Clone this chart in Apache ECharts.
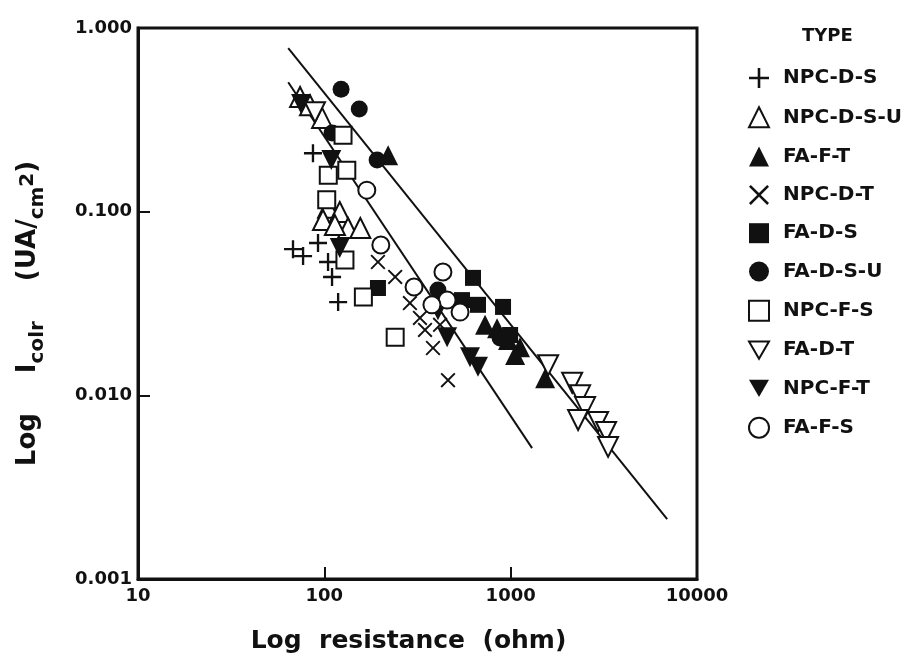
<!DOCTYPE html>
<html><head><meta charset="utf-8">
<script src="https://cdn.jsdelivr.net/npm/echarts@6/dist/echarts.min.js"></script>
<style>html,body{margin:0;padding:0;background:#fff}#c{width:916px;height:664px}</style>
</head><body><div id="c"></div>
<script>
// ---- data (resistance in ohm, current in uA/cm2) ----
const xTicks = [10, 100, 1000, 10000];
const yTicks = [0.001, 0.01, 0.1, 1];
const typeNames = ['NPC-D-S','NPC-D-S-U','FA-F-T','NPC-D-T','FA-D-S','FA-D-S-U','NPC-F-S','FA-D-T','NPC-F-T','FA-F-S'];
const npcDS  = [[67.9,0.0625],[76.9,0.0573],[92.5,0.0675],[104.7,0.0532],[110,0.0441],[118.6,0.0322],[86.9,0.208]];
const npcDSU = [[74.1,0.421],[83.8,0.380],[97.3,0.324],[104.7,0.105],[98.4,0.090],[121,0.0996],[134,0.0815],[156,0.0815],[114,0.0845]];
const faFT   = [[220,0.203],[729,0.0242],[845,0.0232],[968,0.0200],[1122,0.0183],[1057,0.0166],[1531,0.0124]];
const npcDT  = [[194,0.0532],[240,0.0441],[288,0.0318],[326,0.0264],[347,0.0227],[383,0.0181],[461,0.0121],[418,0.0242]];
const faDS   = [[194,0.0384],[628,0.0436],[548,0.0330],[668,0.0311],[910,0.0303],[993,0.0213]];
const faDSU  = [[123,0.464],[154,0.362],[110,0.268],[192,0.191],[407,0.0374],[877,0.0205]];
const npcFS  = [[126,0.261],[105,0.158],[132,0.168],[103,0.116],[129,0.0546],[162,0.0343],[240,0.0207]];
const faDT   = [[1589,0.0146],[2138,0.0117],[2358,0.0100],[2508,0.00863],[2301,0.00734],[2946,0.00716],[3251,0.00631],[3333,0.00524],[89.1,0.348]];
const npcFT  = [[75.0,0.386],[109,0.191],[121,0.0634],[407,0.0291],[456,0.0207],[605,0.0161],[668,0.0143]];
const faFS   = [[169,0.131],[201,0.0658],[303,0.0389],[433,0.0469],[456,0.0330],[535,0.0284],[378,0.0311]];
const fitUpper = [[64,0.778],[6918,0.00212]];
const fitLower = [[64,0.507],[1303,0.00516]];
const seriesData = [npcDS, npcDSU, faFT, npcDT, faDS, faDSU, npcFS, faDT, npcFT, faFS];

// ---- styles ----
const INK = '#111';
const FONT = 'DejaVu Sans';
const plusPath = 'path://M4.35,0H5.65V4.35H10V5.65H5.65V10H4.35V5.65H0V4.35H4.35Z';
const crossPath = 'path://M0,0.9L0.9,0L5,4.1L9.1,0L10,0.9L5.9,5L10,9.1L9.1,10L5,5.9L0.9,10L0,9.1L4.1,5Z';
const downTri = 'path://M0,0L10,0L5,8.66Z';
const open = {color:'#fff', borderColor:INK, borderWidth:2, opacity:1};
const solid = {color:INK, borderWidth:0, opacity:1};
const styles = [
  {symbol: plusPath, size: 18, item: solid},
  {symbol: 'triangle', size: 20, item: open},
  {symbol: 'triangle', size: 20, item: solid},
  {symbol: crossPath, size: 15, item: solid},
  {symbol: 'rect', size: 16, item: solid},
  {symbol: 'circle', size: 17, item: solid},
  {symbol: 'rect', size: 17, item: open},
  {symbol: downTri, size: 20, item: open},
  {symbol: downTri, size: 20, item: solid},
  {symbol: 'circle', size: 17, item: open}
];

const series = typeNames.map((n, i) => ({
  name: n, type: 'scatter', data: seriesData[i],
  symbol: styles[i].symbol, symbolSize: styles[i].size,
  itemStyle: styles[i].item, z: 3,
  emphasis: {disabled: true}
}));
[fitUpper, fitLower].forEach((d, k) => series.push({
  name: 'fit' + k, type: 'line', data: d, symbol: 'none', silent: true, z: 2,
  lineStyle: {color: INK, width: 2}
}));

const chart = echarts.init(document.getElementById('c'), null, {renderer: 'canvas'});
chart.setOption({
  backgroundColor: '#fff',
  animation: false,
  textStyle: {fontFamily: FONT, color: INK},
  title: {text: 'TYPE', left: 797, top: 22, textStyle: {fontFamily: FONT, fontSize: 18, fontWeight: 'bold', color: INK}},
  legend: {
    data: typeNames, orient: 'vertical', left: 743, top: 63,
    itemWidth: 20, itemHeight: 20, itemGap: 18.3,
    textStyle: {fontFamily: FONT, fontSize: 20, fontWeight: 'bold', color: INK, lineHeight: 20, padding: [0, 0, 0, 9]}
  },
  grid: {left: 138, right: 219, top: 28, bottom: 85, show: true, borderColor: INK, borderWidth: 3, backgroundColor: 'transparent'},
  xAxis: {
    type: 'log', logBase: 10, min: xTicks[0], max: xTicks[xTicks.length - 1],
    name: 'Log  resistance  (ohm)', nameLocation: 'middle', nameGap: 50,
    nameTextStyle: {fontFamily: FONT, fontSize: 25, fontWeight: 'bold', color: INK, padding: [0, 18, 0, 0]},
    axisLine: {lineStyle: {color: INK, width: 3}},
    axisTick: {inside: true, length: 12, lineStyle: {color: INK, width: 2}},
    axisLabel: {fontFamily: FONT, fontSize: 18, fontWeight: 'bold', color: INK, margin: 8,
      formatter: v => String(Math.round(v))},
    splitLine: {show: false}, minorTick: {show: false}
  },
  yAxis: {
    type: 'log', logBase: 10, min: yTicks[0], max: yTicks[yTicks.length - 1],
    name: '{a|Log}{g| }{a|I}{b|colr}{g| }{a|(UA/}{b|cm}{c|2}{a|)}',
    nameLocation: 'middle', nameGap: 90,
    nameTextStyle: {
      fontFamily: FONT, color: INK, padding: [0, 20, 0, 0],
      rich: {
        a: {fontFamily: FONT, fontSize: 26, fontWeight: 'bold', color: INK, lineHeight: 40, verticalAlign: 'middle'},
        b: {fontFamily: FONT, fontSize: 20, fontWeight: 'bold', color: INK, lineHeight: 20, verticalAlign: 'bottom'},
        c: {fontFamily: FONT, fontSize: 20, fontWeight: 'bold', color: INK, lineHeight: 20, verticalAlign: 'middle'},
        g: {fontSize: 26, width: 40, lineHeight: 40}
      }
    },
    axisLine: {lineStyle: {color: INK, width: 3}},
    axisTick: {inside: true, length: 12, lineStyle: {color: INK, width: 2}},
    axisLabel: {fontFamily: FONT, fontSize: 18, fontWeight: 'bold', color: INK, margin: 6,
      verticalAlign: 'middle', padding: [0, 0, 12, 0],
      formatter: v => Number(v).toFixed(3)},
    splitLine: {show: false}, minorTick: {show: false}
  },
  series: series
});
</script></body></html>
